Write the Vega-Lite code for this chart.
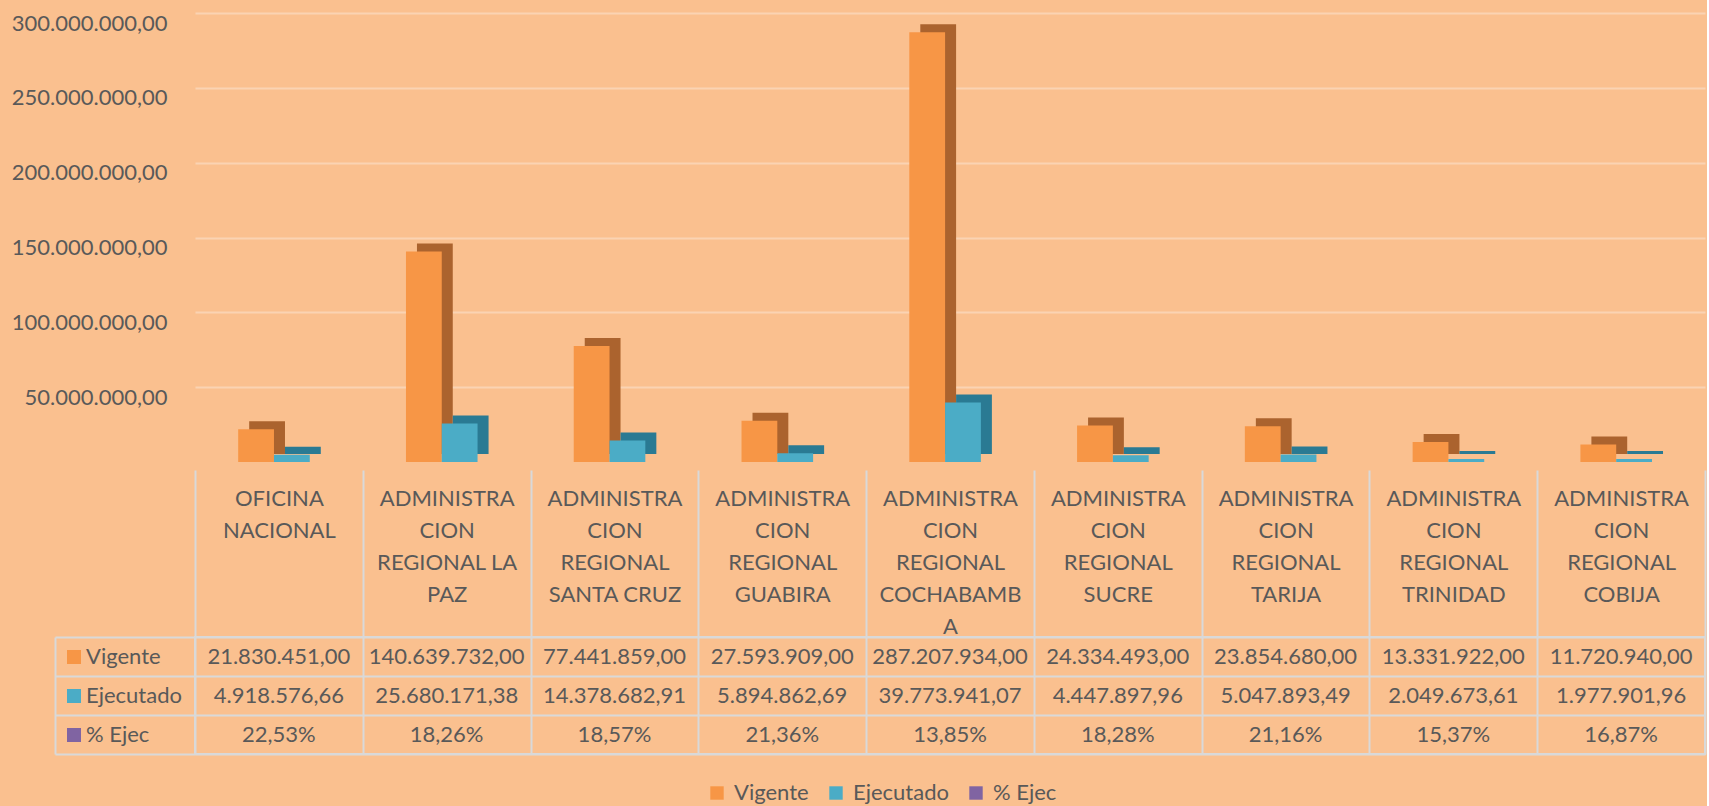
{
  "$schema": "https://vega.github.io/schema/vega-lite/v6.json",
  "background": "#FAC08F",
  "padding": {"left": 11, "top": 12, "right": 0, "bottom": 3},
  "config": {
    "font": "Lato",
    "locale": {"number": {"decimal": ",", "thousands": ".", "grouping": [3], "currency": ["", ""], "percent": "%"}},
    "axis": {"labelFont": "Lato"},
    "legend": {"labelFont": "Lato"}
  },
  "datasets": {
    "d": [
      {"region": "OFICINA NACIONAL", "serie": "Vigente", "value": 21830451.00},
      {"region": "OFICINA NACIONAL", "serie": "Ejecutado", "value": 4918576.66},
      {"region": "OFICINA NACIONAL", "serie": "% Ejec", "value": 0.2253},
      {"region": "ADMINISTRACION REGIONAL LA PAZ", "serie": "Vigente", "value": 140639732.00},
      {"region": "ADMINISTRACION REGIONAL LA PAZ", "serie": "Ejecutado", "value": 25680171.38},
      {"region": "ADMINISTRACION REGIONAL LA PAZ", "serie": "% Ejec", "value": 0.1826},
      {"region": "ADMINISTRACION REGIONAL SANTA CRUZ", "serie": "Vigente", "value": 77441859.00},
      {"region": "ADMINISTRACION REGIONAL SANTA CRUZ", "serie": "Ejecutado", "value": 14378682.91},
      {"region": "ADMINISTRACION REGIONAL SANTA CRUZ", "serie": "% Ejec", "value": 0.1857},
      {"region": "ADMINISTRACION REGIONAL GUABIRA", "serie": "Vigente", "value": 27593909.00},
      {"region": "ADMINISTRACION REGIONAL GUABIRA", "serie": "Ejecutado", "value": 5894862.69},
      {"region": "ADMINISTRACION REGIONAL GUABIRA", "serie": "% Ejec", "value": 0.2136},
      {"region": "ADMINISTRACION REGIONAL COCHABAMBA", "serie": "Vigente", "value": 287207934.00},
      {"region": "ADMINISTRACION REGIONAL COCHABAMBA", "serie": "Ejecutado", "value": 39773941.07},
      {"region": "ADMINISTRACION REGIONAL COCHABAMBA", "serie": "% Ejec", "value": 0.1385},
      {"region": "ADMINISTRACION REGIONAL SUCRE", "serie": "Vigente", "value": 24334493.00},
      {"region": "ADMINISTRACION REGIONAL SUCRE", "serie": "Ejecutado", "value": 4447897.96},
      {"region": "ADMINISTRACION REGIONAL SUCRE", "serie": "% Ejec", "value": 0.1828},
      {"region": "ADMINISTRACION REGIONAL TARIJA", "serie": "Vigente", "value": 23854680.00},
      {"region": "ADMINISTRACION REGIONAL TARIJA", "serie": "Ejecutado", "value": 5047893.49},
      {"region": "ADMINISTRACION REGIONAL TARIJA", "serie": "% Ejec", "value": 0.2116},
      {"region": "ADMINISTRACION REGIONAL TRINIDAD", "serie": "Vigente", "value": 13331922.00},
      {"region": "ADMINISTRACION REGIONAL TRINIDAD", "serie": "Ejecutado", "value": 2049673.61},
      {"region": "ADMINISTRACION REGIONAL TRINIDAD", "serie": "% Ejec", "value": 0.1537},
      {"region": "ADMINISTRACION REGIONAL COBIJA", "serie": "Vigente", "value": 11720940.00},
      {"region": "ADMINISTRACION REGIONAL COBIJA", "serie": "Ejecutado", "value": 1977901.96},
      {"region": "ADMINISTRACION REGIONAL COBIJA", "serie": "% Ejec", "value": 0.1687}
    ]
  },
  "spacing": 175,
  "bounds": "flush",
  "resolve": {"scale": {"color": "independent", "x": "independent", "y": "independent"}},
  "vconcat": [
    {
      "width": 1510,
      "height": 449,
      "view": {"stroke": null},
      "data": {"name": "d"},
      "encoding": {
        "x": {
          "field": "region", "type": "nominal",
          "scale": {"domain": ["OFICINA NACIONAL", "ADMINISTRACION REGIONAL LA PAZ", "ADMINISTRACION REGIONAL SANTA CRUZ", "ADMINISTRACION REGIONAL GUABIRA", "ADMINISTRACION REGIONAL COCHABAMBA", "ADMINISTRACION REGIONAL SUCRE", "ADMINISTRACION REGIONAL TARIJA", "ADMINISTRACION REGIONAL TRINIDAD", "ADMINISTRACION REGIONAL COBIJA"], "paddingInner": 0.36, "paddingOuter": 0.18, "align": 0.715},
          "axis": null
        }
      },
      "layer": [
        {
          "mark": {"type": "bar"},
          "encoding": {
            "xOffset": {"field": "serie", "type": "nominal", "scale": {"domain": ["Vigente", "Ejecutado", "% Ejec"], "range": [11, 118.4]}},
            "y": {"field": "value", "type": "quantitative", "scale": {"domain": [0, 300000000], "nice": false, "range": [441, -8]}, "axis": null},
            "color": {
              "field": "serie", "type": "nominal",
              "scale": {"domain": ["Vigente", "Ejecutado", "% Ejec"], "range": ["#AB632E", "#2A7A93", "#5A3A82"]},
              "legend": null
            }
          }
        },
        {
          "mark": {"type": "bar"},
          "encoding": {
            "xOffset": {"field": "serie", "type": "nominal", "scale": {"domain": ["Vigente", "Ejecutado", "% Ejec"]}},
            "y": {
              "field": "value", "type": "quantitative",
              "scale": {"domain": [0, 300000000], "nice": false},
              "axis": {
                "values": [50000000, 100000000, 150000000, 200000000, 250000000, 300000000],
                "format": ",.2f",
                "labelFontSize": 22, "labelColor": "#595959", "labelPadding": 28, "labelOffset": 10,
                "domain": false, "ticks": false,
                "grid": true, "gridColor": "#FAD3B3", "gridWidth": 2,
                "title": null
              }
            },
            "color": {
              "field": "serie", "type": "nominal",
              "scale": {"domain": ["Vigente", "Ejecutado", "% Ejec"], "range": ["#F79646", "#4BACC6", "#8064A2"]},
              "legend": {
                "orient": "none", "legendX": 511, "legendY": 769, "direction": "horizontal",
                "title": null, "symbolType": "square", "symbolSize": 180, "symbolStrokeWidth": 0,
                "labelFontSize": 22, "labelColor": "#595959", "columnPadding": 16, "labelOffset": 6, "padding": 0
              }
            }
          }
        }
      ],
      "resolve": {"scale": {"xOffset": "independent", "y": "independent", "color": "independent"}}
    },
    {
      "width": 1510,
      "height": 117,
      "view": {"stroke": "#D9D9D9", "strokeWidth": 2},
      "data": {"name": "d"},
      "encoding": {
        "x": {
          "field": "region", "type": "nominal",
          "scale": {"domain": ["OFICINA NACIONAL", "ADMINISTRACION REGIONAL LA PAZ", "ADMINISTRACION REGIONAL SANTA CRUZ", "ADMINISTRACION REGIONAL GUABIRA", "ADMINISTRACION REGIONAL COCHABAMBA", "ADMINISTRACION REGIONAL SUCRE", "ADMINISTRACION REGIONAL TARIJA", "ADMINISTRACION REGIONAL TRINIDAD", "ADMINISTRACION REGIONAL COBIJA"], "paddingInner": 0, "paddingOuter": 0},
          "axis": {
            "orient": "top", "tickBand": "extent", "tickSize": 167, "tickColor": "#D9D9D9", "tickWidth": 2,
            "domain": false, "grid": true, "gridColor": "#D9D9D9", "gridWidth": 2,
            "labelExpr": "isValid(datum.value) ? split(replace(replace(replace(replace(replace(datum.value, 'ADMINISTRACION ', 'ADMINISTRA|CION|'), 'REGIONAL ', 'REGIONAL|'), 'REGIONAL|LA ', 'REGIONAL LA|'), 'COCHABAMBA', 'COCHABAMB|A'), 'OFICINA ', 'OFICINA|'), '|') : ''",
            "labelFontSize": 22, "labelColor": "#595959", "labelBaseline": "top", "labelPadding": -18,
            "labelLineHeight": 32, "labelLimit": 0, "labelOverlap": false, "labelAngle": 0, "labelAlign": "center", "labelFlush": false,
            "title": null
          }
        },
        "y": {
          "field": "serie", "type": "nominal",
          "scale": {"domain": ["Vigente", "Ejecutado", "% Ejec"], "paddingInner": 0, "paddingOuter": 0},
          "axis": {
            "orient": "left", "offset": 140, "tickSize": -140, "tickBand": "extent", "tickColor": "#D9D9D9", "tickWidth": 2,
            "domainColor": "#D9D9D9", "domainWidth": 2, "labels": false,
            "grid": true, "gridColor": "#D9D9D9", "gridWidth": 2, "title": null
          }
        }
      },
      "layer": [
        {
          "mark": {"type": "rect", "opacity": 0},
          "encoding": {
            "color": {
              "field": "serie", "type": "nominal",
              "scale": {"domain": ["Vigente", "Ejecutado", "% Ejec"], "range": ["#F79646", "#4BACC6", "#8064A2"]},
              "legend": {
                "orient": "none", "legendX": -132, "legendY": 9, "direction": "vertical",
                "title": null, "symbolType": "square", "symbolSize": 196, "symbolOpacity": 1, "symbolStrokeWidth": 0,
                "labelFontSize": 22, "labelColor": "#595959", "rowPadding": 17, "labelOffset": 1, "padding": 0
              }
            }
          }
        },
        {
          "transform": [{"filter": "datum.serie !== '% Ejec'"}],
          "mark": {"type": "text", "fontSize": 22, "color": "#595959"},
          "encoding": {"text": {"field": "value", "type": "quantitative", "format": ",.2f"}}
        },
        {
          "transform": [{"filter": "datum.serie === '% Ejec'"}],
          "mark": {"type": "text", "fontSize": 22, "color": "#595959"},
          "encoding": {"text": {"field": "value", "type": "quantitative", "format": ".2%"}}
        }
      ]
    }
  ]
}
